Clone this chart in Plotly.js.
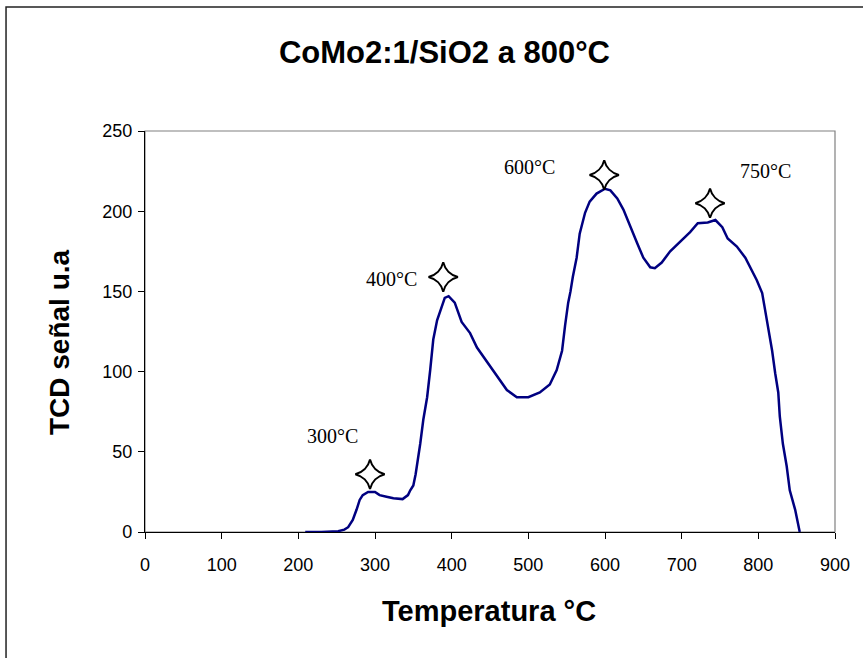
<!DOCTYPE html>
<html>
<head>
<meta charset="utf-8">
<script src="https://cdn.plot.ly/plotly-3.0.1.min.js"></script>
<style>html,body{margin:0;padding:0;background:#fff;}#chart{width:863px;height:658px;}</style>
</head>
<body>
<div id="chart"></div>
<script>
const temperatura = [209,230,252,260,265,271,276,280,284,291,300,306,315,324,336,343,346,350,353,356,359,363,368,372,376,381,385,391,396,404,413,424,433,446,459,472,485,500,515,528,537,544,548,552,555,558,563,567,574,580,589,600,607,616,624,633,642,650,659,665,674,685,698,711,721,734,744,753,760,772,783,792,798,805,809,813,818,822,826,828,832,837,841,848,854];
const senal = [0,0,0.5,1.5,3,7.5,14,20,23,25,25,23,22,21,20.5,23,26,29,36,45,55,70,84,101,120,132,138,146,147,143,131,124,115,106,97,88.5,84,84,87,92,101,113,129,143,150,159,171,186,199,206,211,214,213,208,201,190,180,171,165,164.5,168,175,181,187,192.5,193,194.5,190,183,178,171,163,157,149,138,126,113,99,87,72,55,41,26,14,0];
const picosT = [293.5,389,599,737];
const picosY = [36,159,222.6,205];
const etiquetas = ["300°C","400°C","600°C","750°C"];
const etiqT = [245,322,502,809];
const etiqY = [60,158,227.5,225];
const tituloX = 'Temperatura °C';
const tituloY = 'TCD señal u.a';

const sans = '"Liberation Sans", Arial, sans-serif';

const traces = [
  {x: temperatura, y: senal, type: 'scatter', mode: 'lines',
   line: {color: '#000080', width: 2.5}, hoverinfo: 'skip'},
  {x: picosT, y: picosY, type: 'scatter', mode: 'markers',
   marker: {symbol: 'star-diamond', size: 21, color: '#ffffff', line: {color: '#000000', width: 2}}}
];

const annotations = etiquetas.map((t, i) => ({
  x: etiqT[i], y: etiqY[i], xref: 'x', yref: 'y', text: t, showarrow: false,
  font: {family: '"Liberation Serif", "Times New Roman", serif', size: 20, color: '#000'}
}));
annotations.push({x: 0.4986, y: -0.197, xref: 'paper', yref: 'paper', text: '<b>' + tituloX + '</b>',
  showarrow: false, xanchor: 'center', yanchor: 'middle',
  font: {family: sans, size: 29, color: '#000'}});
annotations.push({x: -0.123, y: 0.474, xref: 'paper', yref: 'paper', text: '<b>' + tituloY + '</b>',
  showarrow: false, xanchor: 'center', yanchor: 'middle', textangle: -90,
  font: {family: sans, size: 28, color: '#000'}});

const layout = {
  width: 863, height: 658,
  margin: {l: 145, r: 28, t: 131, b: 126},
  paper_bgcolor: '#fff', plot_bgcolor: '#fff',
  showlegend: false,
  title: {text: '<b>CoMo2:1/SiO2 a 800°C</b>', x: 0.515, xanchor: 'center', y: 0.921, yanchor: 'middle',
          font: {family: sans, size: 31, color: '#000'}},
  xaxis: {range: [0, 900], tickvals: [0,100,200,300,400,500,600,700,800,900],
          showgrid: false, zeroline: false, showline: true, linecolor: '#000', linewidth: 1.2,
          ticks: 'outside', ticklen: 6, tickcolor: '#000', ticklabelstandoff: 10,
          tickfont: {family: sans, size: 18, color: '#000'}},
  yaxis: {range: [0, 250], tickvals: [0,50,100,150,200,250],
          showgrid: false, zeroline: false, showline: true, linecolor: '#000', linewidth: 1.2,
          ticks: 'outside', ticklen: 6, tickcolor: '#000', ticklabelstandoff: 2,
          tickfont: {family: sans, size: 18, color: '#000'}},
  annotations: annotations,
  shapes: [
    {type: 'rect', xref: 'paper', yref: 'paper', x0: 0, x1: 1, y0: 0, y1: 1,
     line: {color: '#808080', width: 1.2}, layer: 'below'},
    {type: 'rect', xref: 'paper', yref: 'paper', x0: -0.2014, x1: 1.06, y0: -0.36, y1: 1.309,
     line: {color: '#222', width: 1.5}, layer: 'below'}
  ]
};

Plotly.newPlot('chart', traces, layout, {displayModeBar: false, staticPlot: true});
</script>
</body>
</html>
